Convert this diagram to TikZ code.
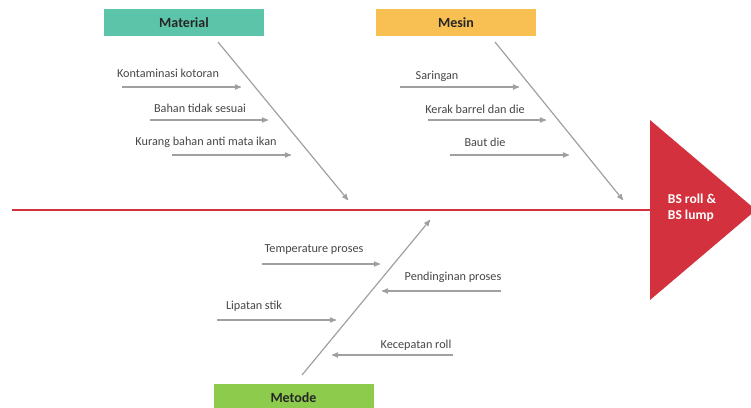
\documentclass[tikz,border=0pt]{standalone}
\usepackage{fontspec}
\setmainfont{Carlito}
\usepackage{tikz}
\usetikzlibrary{arrows,positioning}
\definecolor{matcol}{RGB}{92,197,169}
\definecolor{mescol}{RGB}{248,192,82}
\definecolor{metcol}{RGB}{140,203,75}
\definecolor{spinecol}{RGB}{210,49,61}
\definecolor{bonecol}{RGB}{160,160,160}
\definecolor{txtcol}{RGB}{70,70,70}
\begin{document}
\begin{tikzpicture}[x=1pt,y=-1pt,
category/.style={rectangle,inner sep=0pt,minimum width=160pt,minimum height=27pt,font=\fontsize{14}{16}\selectfont\bfseries,text=black!85},
cause/.style={inner sep=0pt,font=\fontsize{12.2}{14}\selectfont,text=txtcol},
bone/.style={->, >=stealth', draw=bonecol, line width=1.2pt},
spine/.style={draw=spinecol, line width=2.6pt},
]
\useasboundingbox (0,0) rectangle (751,407);
\clip (0,0) rectangle (751,407);

% categories
\node [category,fill=matcol] (Mat) at (184,22.5) {Material};
\node [category,fill=mescol] (Mes) at (456,22.5) {Mesin};
\node [category,fill=metcol] (Met) at (293.5,397.5) {Metode};

% head
\fill [spinecol] (650,120) -- (756,210) -- (650,300) -- cycle;
\node [inner sep=0pt,align=left,text=white,font=\fontsize{13.5}{16}\selectfont\bfseries] (Effect) at (692,208) {BS roll \&\\BS lump};

% spine
\coordinate (S0) at (12,210);
\coordinate (S1) at (651,210);
\draw [spine] (S0) -- (S1);

% main bones
\coordinate (MatA) at (218,42);  \coordinate (MatB) at (348,200);
\coordinate (MesA) at (495,42);  \coordinate (MesB) at (623,200);
\coordinate (MetA) at (302,375); \coordinate (MetB) at (430,220);
\foreach \vb in {Mat, Mes, Met}
{
\draw [bone] (\vb A) to (\vb B);
}

% causes
\node [cause] (C1) at (168,73) {Kontaminasi kotoran};
\node [cause] (C2) at (200,108) {Bahan tidak sesuai};
\node [cause] (C3) at (206,142) {Kurang bahan anti mata ikan};
\node [cause] (C4) at (437,76) {Saringan};
\node [cause] (C5) at (475,109) {Kerak barrel dan die};
\node [cause] (C6) at (485,142) {Baut die};
\node [cause] (C7) at (314,250) {Temperature proses};
\node [cause] (C8) at (453,277) {Pendinginan proses};
\node [cause] (C9) at (254,306) {Lipatan stik};
\node [cause] (C10) at (416,345) {Kecepatan roll};

\coordinate (A1) at (122,87);  \coordinate (B1) at (241,87);
\coordinate (A2) at (150,120); \coordinate (B2) at (268,120);
\coordinate (A3) at (172,155); \coordinate (B3) at (291,155);
\coordinate (A4) at (400,87);  \coordinate (B4) at (519,87);
\coordinate (A5) at (428,120); \coordinate (B5) at (546,120);
\coordinate (A6) at (450,155); \coordinate (B6) at (569,155);
\coordinate (A7) at (262,264); \coordinate (B7) at (380,264);
\coordinate (A8) at (501,291); \coordinate (B8) at (382,291);
\coordinate (A9) at (217,320); \coordinate (B9) at (336,320);
\coordinate (A10) at (453,355); \coordinate (B10) at (332,355);

\foreach \vc in {1,...,10}
{
\draw [bone] (A\vc) to (B\vc);
}

\end{tikzpicture}
\end{document}
